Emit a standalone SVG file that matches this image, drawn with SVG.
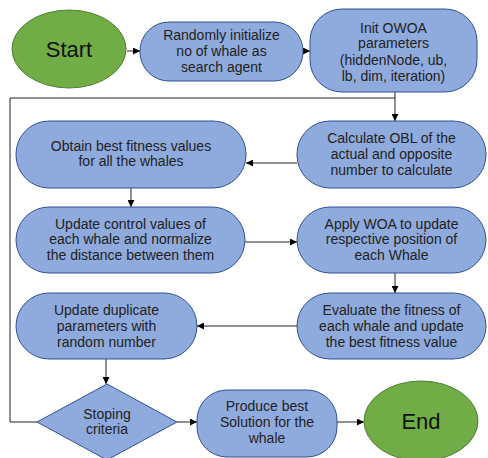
<svg xmlns="http://www.w3.org/2000/svg" width="488" height="458" viewBox="0 0 488 458">
<defs>
<marker id="ah" viewBox="0 0 10 10" refX="10" refY="5" markerWidth="7" markerHeight="7" markerUnits="userSpaceOnUse" orient="auto">
<path d="M0,0 L10,5 L0,10 z" fill="#000"/>
</marker>
<style>
.box{fill:#8FAADC;stroke:#2F528F;stroke-width:1}
.term{fill:#70AD47;stroke:#507E32;stroke-width:1}
.t{font-family:"Liberation Sans",Arial,sans-serif;font-size:14px;fill:#222;text-anchor:middle}
.big{font-family:"Liberation Sans",Arial,sans-serif;font-size:22px;fill:#111;text-anchor:middle}
.c{fill:none;stroke:#222;stroke-width:1}
</style>
</defs>
<rect width="488" height="458" fill="#fff"/>
<g id="connectors">
<line class="c" x1="127" y1="51" x2="140" y2="51" marker-end="url(#ah)"/>
<line class="c" x1="303" y1="51" x2="310" y2="51" marker-end="url(#ah)"/>
<line class="c" x1="395" y1="92" x2="395" y2="121" marker-end="url(#ah)"/>
<polyline class="c" points="37,422 10,422 10,98 395,98"/>
<line class="c" x1="297" y1="163" x2="246" y2="163" marker-end="url(#ah)"/>
<line class="c" x1="131" y1="188" x2="131" y2="207" marker-end="url(#ah)"/>
<line class="c" x1="245" y1="242" x2="297" y2="242" marker-end="url(#ah)"/>
<line class="c" x1="395" y1="273" x2="395" y2="293" marker-end="url(#ah)"/>
<line class="c" x1="297" y1="326" x2="197" y2="326" marker-end="url(#ah)"/>
<line class="c" x1="106" y1="359" x2="106" y2="384" marker-end="url(#ah)"/>
<line class="c" x1="177" y1="422" x2="197" y2="422" marker-end="url(#ah)"/>
<line class="c" x1="337" y1="422" x2="364" y2="422" marker-end="url(#ah)"/>
</g>
<g id="start">
<ellipse class="term" cx="69" cy="49" rx="57" ry="39"/>
<text class="big" x="69" y="57">Start</text>
</g>
<g id="init-whales">
<rect class="box" x="140" y="22" width="163" height="59" rx="29" ry="29"/>
<text class="t" x="221.5" y="40">Randomly initialize</text>
<text class="t" x="221.5" y="56">no of whale as</text>
<text class="t" x="221.5" y="72">search agent</text>
</g>
<g id="init-owoa">
<rect class="box" x="310" y="9" width="167" height="83" rx="32" ry="32"/>
<text class="t" x="393.5" y="33">Init OWOA</text>
<text class="t" x="393.5" y="48">parameters</text>
<text class="t" x="393.5" y="65">(hiddenNode, ub,</text>
<text class="t" x="393.5" y="81">lb, dim, iteration)</text>
</g>
<g id="calc-obl">
<rect class="box" x="297" y="121" width="189" height="67" rx="33" ry="33"/>
<text class="t" x="391.5" y="143">Calculate OBL of the</text>
<text class="t" x="391.5" y="159">actual and opposite</text>
<text class="t" x="391.5" y="175">number to calculate</text>
</g>
<g id="obtain-best">
<rect class="box" x="16" y="121" width="230" height="67" rx="33" ry="33"/>
<text class="t" x="131" y="151">Obtain best fitness values</text>
<text class="t" x="131" y="166">for all the whales</text>
</g>
<g id="update-control">
<rect class="box" x="16" y="207" width="229" height="66" rx="33" ry="33"/>
<text class="t" x="130.5" y="229">Update control values of</text>
<text class="t" x="130.5" y="244">each whale and normalize</text>
<text class="t" x="130.5" y="260">the distance between them</text>
</g>
<g id="apply-woa">
<rect class="box" x="297" y="207" width="189" height="66" rx="33" ry="33"/>
<text class="t" x="391.5" y="229">Apply WOA to update</text>
<text class="t" x="391.5" y="244">respective position of</text>
<text class="t" x="391.5" y="260">each Whale</text>
</g>
<g id="evaluate">
<rect class="box" x="297" y="293" width="189" height="66" rx="33" ry="33"/>
<text class="t" x="391.5" y="315">Evaluate the fitness of</text>
<text class="t" x="391.5" y="331">each whale and update</text>
<text class="t" x="391.5" y="347">the best fitness value</text>
</g>
<g id="update-duplicate">
<rect class="box" x="16" y="293" width="181" height="66" rx="33" ry="33"/>
<text class="t" x="106.5" y="315">Update duplicate</text>
<text class="t" x="106.5" y="331">parameters with</text>
<text class="t" x="106.5" y="347">random number</text>
</g>
<g id="stopping">
<polygon class="box" points="107,384 177,422 107,460 37,422"/>
<text class="t" x="107" y="419">Stoping</text>
<text class="t" x="107" y="434">criteria</text>
</g>
<g id="produce">
<rect class="box" x="197" y="390" width="140" height="67" rx="30" ry="30"/>
<text class="t" x="267" y="411">Produce best</text>
<text class="t" x="267" y="427">Solution for the</text>
<text class="t" x="267" y="443">whale</text>
</g>
<g id="end">
<ellipse class="term" cx="421" cy="421" rx="57" ry="40"/>
<text class="big" x="421" y="429">End</text>
</g>
</svg>
